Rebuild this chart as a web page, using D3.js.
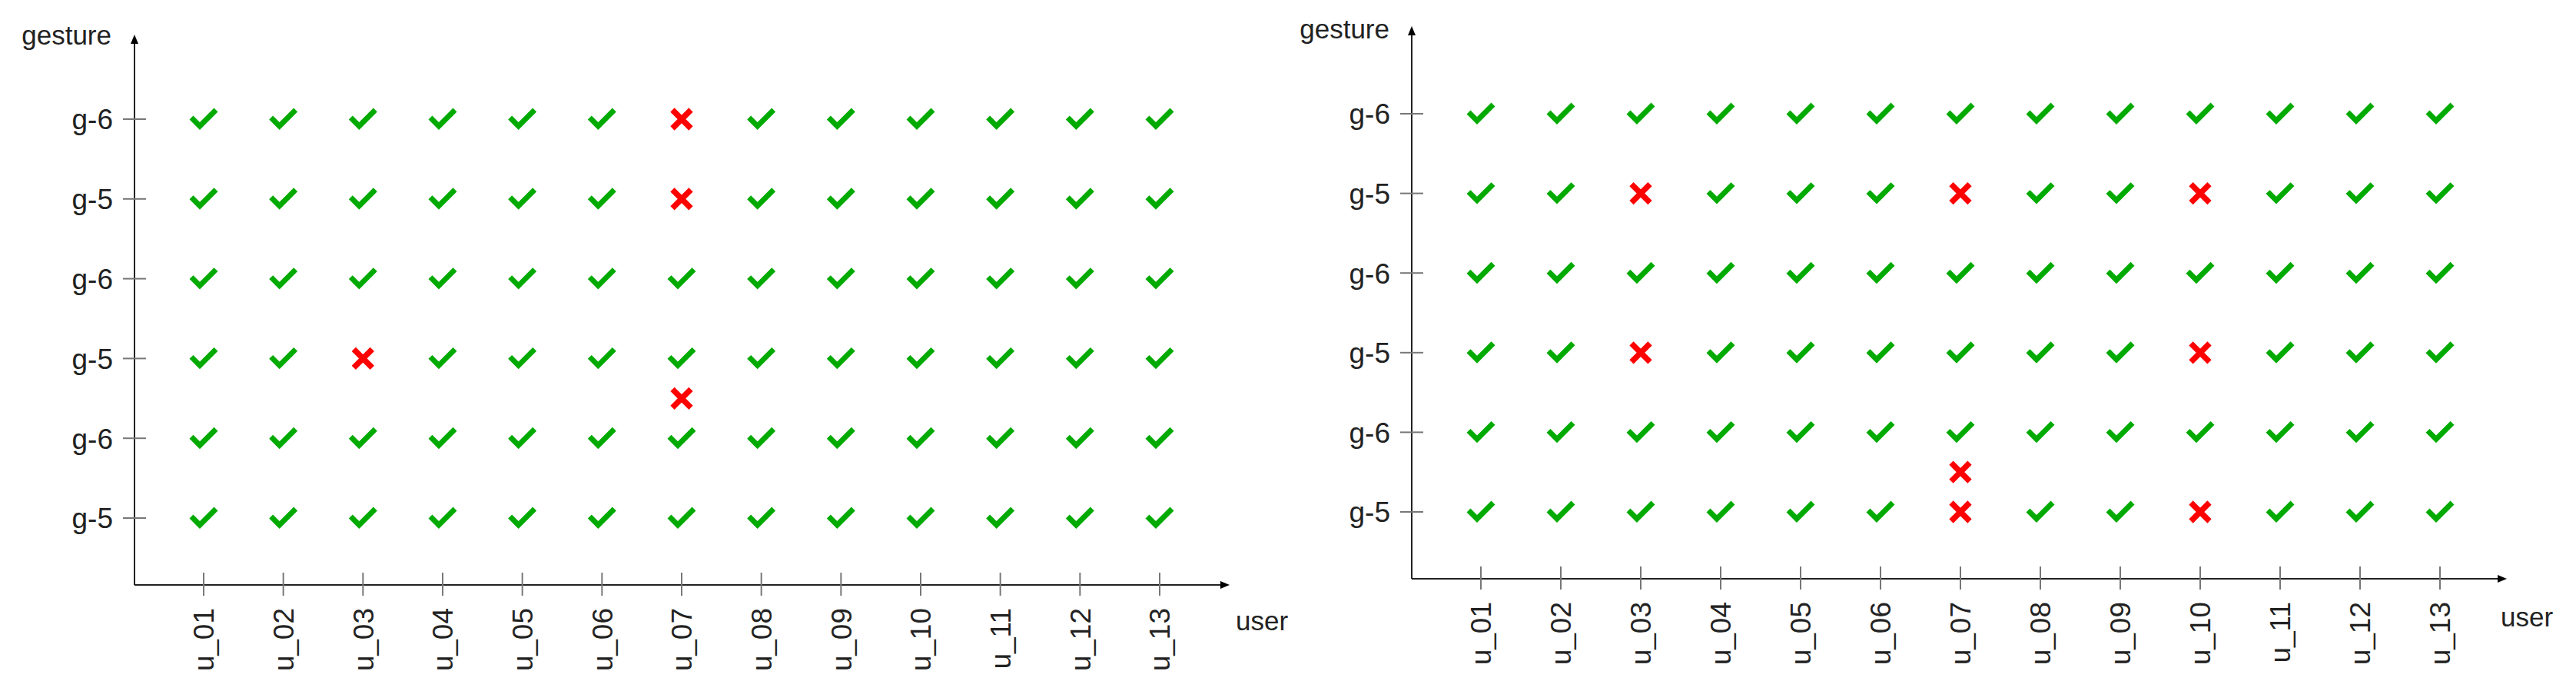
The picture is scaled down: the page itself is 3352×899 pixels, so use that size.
<!DOCTYPE html><html><head><meta charset="utf-8"><script src="https://d3js.org/d3.v7.min.js"></script>
<style>body{margin:0;background:#fff}</style></head><body><svg id="c" width="3352" height="899"></svg><script>
const users=["u_01","u_02","u_03","u_04","u_05","u_06","u_07","u_08","u_09","u_10","u_11","u_12","u_13"];
const gestureLabels=["g-5","g-6","g-5","g-6","g-5","g-6"]; // bottom to top, rows 1..6
const rows=[1,2,3,4,5,6];
// failures per panel: [user, row]
const failsLeft=[["u_07",6],["u_07",5],["u_03",3],["u_07",2.5]];
const failsRight=[["u_03",5],["u_07",5],["u_10",5],["u_03",3],["u_10",3],["u_07",1.5],["u_07",1],["u_10",1]];
const panels=[
 {fails:failsLeft,ax:175,top:45,xb:761,r1:674,r6:155,u1:265,u13:1509,xend:1600,userX:1608,userY:820,gx:145,gy:58},
 {fails:failsRight,ax:1837,top:34,xb:753,r1:666,r6:148,u1:1927,u13:3175,xend:3262,userX:3254,userY:815,gx:1808,gy:50}
];
const svg=d3.select("#c");
const font="Arial, Liberation Sans, sans-serif";
panels.forEach(p=>{
 const g=svg.append("g");
 const x=d3.scalePoint().domain(users).range([p.u1,p.u13]);
 const y=d3.scaleLinear().domain([1,6]).range([p.r1,p.r6]);
 g.append("line").attr("x1",p.ax).attr("x2",p.ax).attr("y1",p.xb).attr("y2",p.top+10).attr("stroke","#222").attr("stroke-width",2);
 g.append("path").attr("d",`M${p.ax-5},${p.top+12}L${p.ax},${p.top}L${p.ax+5},${p.top+12}Z`).attr("fill","#000");
 g.append("line").attr("x1",p.ax).attr("x2",p.xend-10).attr("y1",p.xb).attr("y2",p.xb).attr("stroke","#222").attr("stroke-width",2);
 g.append("path").attr("d",`M${p.xend-12},${p.xb-5}L${p.xend},${p.xb}L${p.xend-12},${p.xb+5}Z`).attr("fill","#000");
 rows.forEach(r=>{
  g.append("line").attr("x1",p.ax-15).attr("x2",p.ax+15).attr("y1",y(r)).attr("y2",y(r)).attr("stroke","#777").attr("stroke-width",2);
  g.append("text").attr("x",p.ax-28).attr("y",y(r)).attr("dy","0.36em").attr("text-anchor","end").attr("font-family",font).attr("font-size",37).attr("fill","#222").text(gestureLabels[r-1]);
 });
 users.forEach(u=>{
  g.append("line").attr("x1",x(u)).attr("x2",x(u)).attr("y1",p.xb-16).attr("y2",p.xb+14).attr("stroke","#777").attr("stroke-width",2);
  g.append("text").attr("transform",`translate(${x(u)},${p.xb+30}) rotate(-90)`).attr("dy","0.36em").attr("text-anchor","end").attr("font-family",font).attr("font-size",37).attr("fill","#222").text(u);
 });
 g.append("text").attr("x",p.gx).attr("y",p.gy).attr("text-anchor","end").attr("font-family",font).attr("font-size",35).attr("fill","#222").text("gesture");
 g.append("text").attr("x",p.userX).attr("y",p.userY).attr("font-family",font).attr("font-size",35).attr("fill","#222").text("user");
 const failSet=new Set(p.fails.map(f=>f[0]+"|"+f[1]));
 users.forEach(u=>rows.forEach(r=>{
  if(failSet.has(u+"|"+r))return;
  g.append("path").attr("transform",`translate(${x(u)},${y(r)})`)
   .attr("d","M-16,-2L-5,9L16,-12").attr("fill","none").attr("stroke","#00aa00").attr("stroke-width",7).attr("stroke-linejoin","miter");
 }));
 p.fails.forEach(f=>{
  g.append("path").attr("transform",`translate(${x(f[0])},${y(f[1])})`)
   .attr("d","M-12,-12L12,12M12,-12L-12,12").attr("fill","none").attr("stroke","#ff0000").attr("stroke-width",7.5);
 });
});
</script></body></html>
